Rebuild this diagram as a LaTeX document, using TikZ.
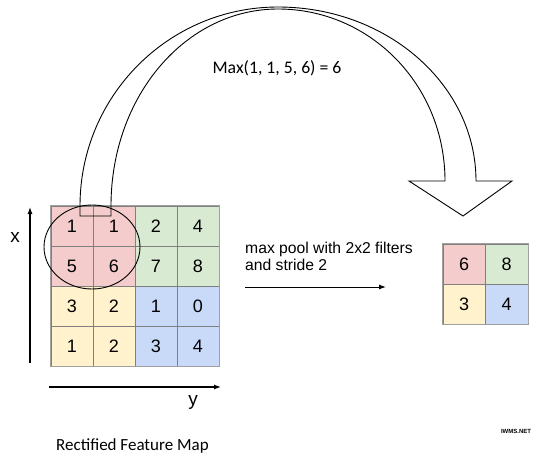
\documentclass[tikz,border=0pt]{standalone}
\usepackage{fontspec}
\setmainfont{Liberation Sans}
\newfontfamily\calibri{Carlito}
\usetikzlibrary{arrows.meta}
\definecolor{cred}{HTML}{F4CCCC}
\definecolor{cgreen}{HTML}{D9EAD3}
\definecolor{cyellow}{HTML}{FFF2CC}
\definecolor{cblue}{HTML}{C9DAF8}
\definecolor{gridgray}{HTML}{7F7F7F}
\definecolor{bordergray}{HTML}{A0A0A0}
\begin{document}
\begin{tikzpicture}[x=1pt,y=-1pt,
  cell/.style={draw=gridgray, line width=0.8pt, minimum width=42pt, minimum height=40pt,
    inner sep=0pt, font=\fontsize{18}{18}\selectfont},
  axis/.style={line width=1.2pt, -{Latex[length=7pt,width=5pt]}},
  outline/.style={line width=0.9pt, black},
  lbl/.style={inner sep=0pt}]
\useasboundingbox (0,0) rectangle (550,469);
% left grid
\foreach \r/\c/\v/\col in {1/1/1/cred,1/2/1/cred,1/3/2/cgreen,1/4/4/cgreen,
  2/1/5/cred,2/2/6/cred,2/3/7/cgreen,2/4/8/cgreen,
  3/1/3/cyellow,3/2/2/cyellow,3/3/1/cblue,3/4/0/cblue,
  4/1/1/cyellow,4/2/2/cyellow,4/3/3/cblue,4/4/4/cblue}
  \node[cell, fill=\col] (L-\r-\c) at ({51+42*(\c-0.5)},{206+40*(\r-0.5)}) {\v};
\draw[bordergray, line width=0.9pt] (L-1-1.north west) rectangle (L-4-4.south east);
% right grid
\foreach \r/\c/\v/\col in {1/1/6/cred,1/2/8/cgreen,2/1/3/cyellow,2/2/4/cblue}
  \node[cell, fill=\col, minimum width=42.5pt] (R-\r-\c) at ({443+42.5*(\c-0.5)},{244+40*(\r-0.5)}) {\v};
\draw[bordergray, line width=0.9pt] (R-1-1.north west) rectangle (R-2-2.south east);
% axes
\coordinate (xa0) at (30,363);
\coordinate (xa1) at (30,207);
\coordinate (ya0) at (49,387);
\coordinate (ya1) at (221,387);
\draw[axis] (xa0) -- (xa1);
\draw[axis] (ya0) -- (ya1);
\node[lbl, font=\fontsize{19}{19}\selectfont] (xl) at (15,237) {x};
\node[lbl, font=\fontsize{19}{19}\selectfont] (yl) at (193,402) {y};
% pooling arrow and text
\node[lbl, anchor=base west, font=\fontsize{15.7}{17}\selectfont] (p1) at (245,253) {max pool with 2x2 filters};
\node[lbl, anchor=base west, font=\fontsize{15.7}{17}\selectfont] (p2) at (245,270) {and stride 2};
\coordinate (pa0) at (245,287);
\coordinate (pa1) at (386,287);
\draw[axis, line width=1pt] (pa0) -- (pa1);
% circle
\draw[outline] (92,247) ellipse [x radius=48pt, y radius=42pt];
% big curved arrow
\draw[outline, line join=miter] (80,216) -- (80,206)
  .. controls (80,96) and (168.6,7) .. (278,7)
  .. controls (387.4,7) and (476,85) .. (476,181)
  -- (512,181) -- (463,216) -- (409,181) -- (445,181)
  .. controls (445,85) and (370.2,9) .. (278,9)
  .. controls (185.8,9) and (111,96) .. (111,206)
  -- (111,216) -- cycle;
\node[lbl, font=\calibri\fontsize{17.7}{18}\selectfont] (maxt) at (277,68) {Max(1, 1, 5, 6) = 6};
\node[lbl, anchor=base west, font=\calibri\fontsize{17}{18}\selectfont] (cap) at (56,450) {Rectified Feature Map};
\node[lbl, font=\fontsize{6}{6}\selectfont\bfseries] (wm) at (516,431) {IWMS.NET};
\end{tikzpicture}
\end{document}
